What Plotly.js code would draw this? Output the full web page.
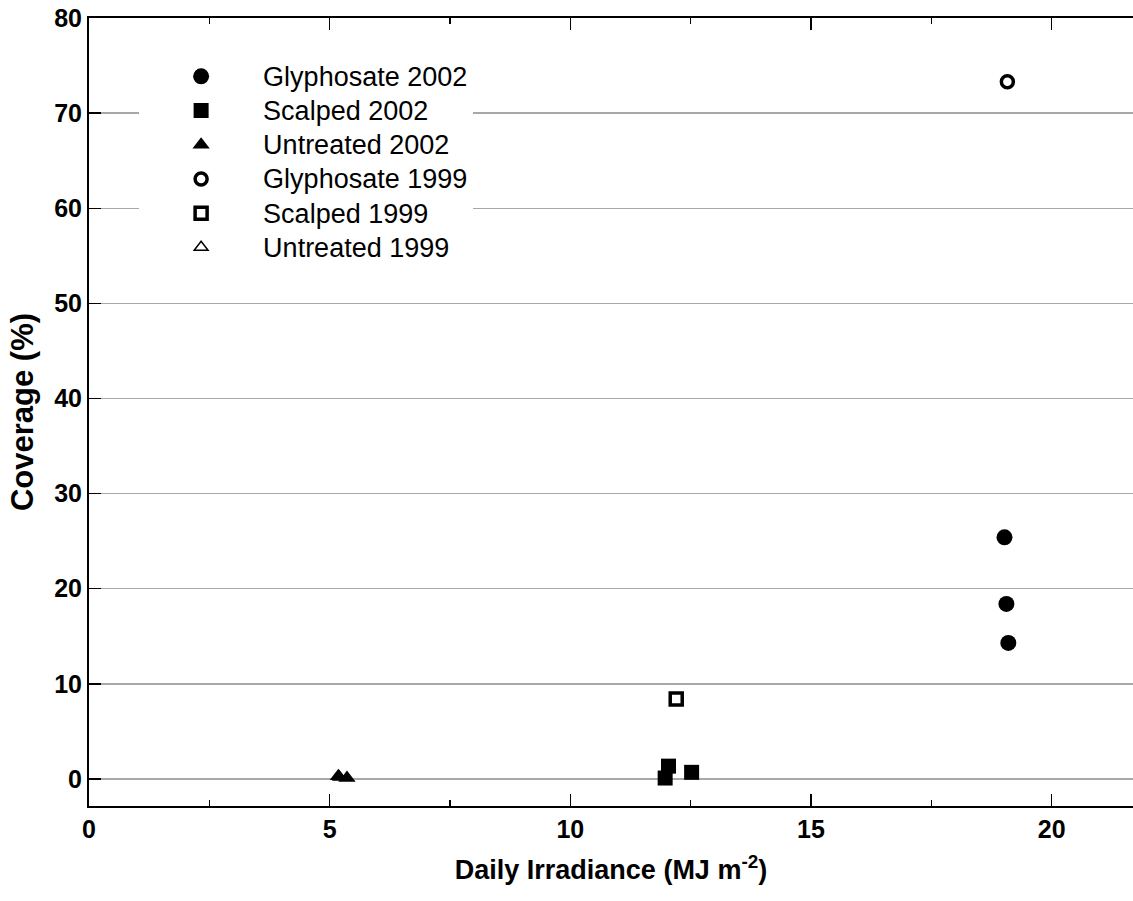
<!DOCTYPE html>
<html>
<head>
<meta charset="utf-8">
<script src="https://cdn.plot.ly/plotly-3.0.1.min.js"></script>
<style>html,body{margin:0;padding:0;background:#fff;}#chart{width:1133px;height:901px;}</style>
</head>
<body>
<div id="chart"></div>
<script>
// Data
const seriesNames = ["Glyphosate 2002", "Scalped 2002", "Untreated 2002", "Glyphosate 1999", "Scalped 1999", "Untreated 1999"];
const glyphosate2002X = [19.02, 19.06, 19.10];
const glyphosate2002Y = [25.4, 18.4, 14.3];
const scalped2002X = [11.97, 12.04, 12.52];
const scalped2002Y = [0.1, 1.35, 0.7];
const untreated2002X = [5.18, 5.36];
const untreated2002Y = [0.3, 0.1];
const glyphosate1999X = [19.08];
const glyphosate1999Y = [73.3];
const scalped1999X = [12.2];
const scalped1999Y = [8.4];
const untreated1999X = [5.2];   // hidden under the 2002 triangles
const untreated1999Y = [0.2];
const xTickVals = [0, 5, 10, 15, 20];
const yTickVals = [0, 10, 20, 30, 40, 50, 60, 70, 80];

const FONT = "Liberation Sans, Arial, Helvetica, sans-serif";

function tr(name, x, y, symbol, size, lineW) {
  return {
    type: "scatter", mode: "markers",
    name: '<span style="font-size:27px">' + name + '</span>',
    x: x, y: y,
    marker: {symbol: symbol, size: size, color: "#000", line: {color: "#000", width: lineW}},
    cliponaxis: false
  };
}

const data = [
  tr(seriesNames[0], glyphosate2002X, glyphosate2002Y, "circle", 16, 0),
  tr(seriesNames[1], scalped2002X, scalped2002Y, "square", 15, 0),
  tr(seriesNames[2], untreated2002X, untreated2002Y, "triangle-up", 15, 0),
  tr(seriesNames[3], glyphosate1999X, glyphosate1999Y, "circle-open", 12, 3.5),
  tr(seriesNames[4], scalped1999X, scalped1999Y, "square-open", 12, 3.5),
  tr(seriesNames[5], untreated1999X, untreated1999Y, "triangle-up-open", 12, 1.5)
];

const layout = {
  width: 1133, height: 901,
  margin: {l: 89, r: 0, t: 18, b: 95},
  paper_bgcolor: "#fff", plot_bgcolor: "#fff",
  font: {family: FONT, color: "#000"},
  showlegend: true,
  legend: {
    x: 0.048, y: 0.954, xanchor: "left", yanchor: "top",
    bgcolor: "#fff", borderwidth: 0,
    font: {family: FONT, size: 24, color: "#000"},
    itemwidth: 114, itemclick: false
  },
  xaxis: {
    range: [0, 21.69], tickvals: xTickVals, ticktext: xTickVals.map(String),
    ticks: "inside", ticklen: 12, tickwidth: 1.5, tickcolor: "#000",
    minor: {dtick: 2.5, tick0: 0, ticks: "inside", ticklen: 6, tickwidth: 1.5, tickcolor: "#000", showgrid: false},
    showline: true, linecolor: "#000", linewidth: 2, mirror: "ticks",
    showgrid: false, zeroline: false,
    tickfont: {family: FONT, size: 25, weight: "bold", color: "#000"},
    title: {text: "Daily Irradiance (MJ m<sup>-2</sup>)", font: {family: FONT, size: 27, weight: "bold", color: "#000"}, standoff: 18}
  },
  yaxis: {
    range: [-2.84, 80], tickvals: yTickVals, ticktext: yTickVals.map(String),
    ticks: "inside", ticklen: 12, tickwidth: 1.5, tickcolor: "#000",
    showline: true, linecolor: "#000", linewidth: 2, mirror: false,
    showgrid: true, gridcolor: "#a8a8a8", gridwidth: 1.5, zeroline: false,
    tickfont: {family: FONT, size: 25, weight: "bold", color: "#000"},
    title: {text: "Coverage (%)", font: {family: FONT, size: 31, weight: "bold", color: "#000"}, standoff: 11}
  }
};

Plotly.newPlot("chart", data, layout, {displayModeBar: false, staticPlot: true});
</script>
</body>
</html>
